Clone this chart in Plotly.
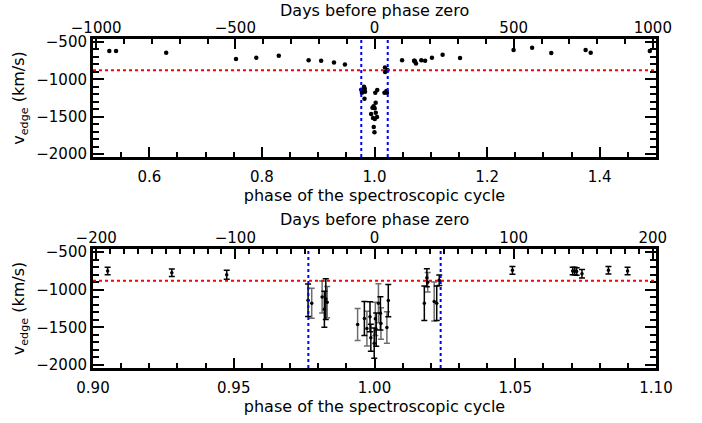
import plotly.graph_objects as go

PERIOD = 2022.7  # days

# --- top panel: points outside the zoomed window (no error bars drawn) ---
wide_phase = [0.529, 0.541, 0.630, 0.754, 0.790, 0.830, 0.883,
              1.102, 1.121, 1.152, 1.247, 1.280, 1.314, 1.375, 1.384, 1.489]
wide_vel = [-620, -620, -643, -728, -710, -683, -745,
            -710, -670, -714, -607, -576, -647, -607, -643, -620]

# --- measurements with error bars (black bars) ---
blk_phase = [0.9052, 0.9280, 0.9475, 0.9764, 0.9822, 0.9827, 0.9964, 0.9984,
             0.9987, 0.9999, 1.0006, 1.0021, 1.0049, 1.0177, 1.0186, 1.0221,
             1.0230, 1.0490, 1.0704, 1.0711, 1.0718, 1.0737, 1.0831, 1.0899]
blk_vel = [-752, -775, -802, -1140, -1260, -1125, -1382, -1360,
           -1638, -1710, -1530, -1314, -1144, -1180, -842, -1180,
           -874, -743, -752, -752, -760, -788, -743, -752]
blk_err = [50, 50, 60, 215, 240, 270, 225, 200,
           180, 200, 220, 220, 214, 230, 120, 230,
           70, 52, 50, 50, 50, 57, 50, 50]

# --- measurements with error bars (grey bars) ---
gry_phase = [0.9777, 0.9814, 0.9832, 0.9940, 0.9973, 1.0003, 1.0014,
             1.0023, 1.0044, 1.0189, 1.0212]
gry_vel = [-1180, -1098, -1166, -1463, -1517, -1387, -1180,
           -1449, -1503, -901, -1157]
gry_err = [200, 213, 207, 212, 230, 220, 260,
           210, 210, 130, 260]

ref_vel = -880               # red dotted level
window = [0.9765, 1.0235]    # blue dotted phases

top_range = [0.5, 1.5]
bot_range = [0.90, 1.10]
y_range = [-2040, -460]

FONT = "DejaVu Sans"
fig = go.Figure()

all_phase = wide_phase + blk_phase + gry_phase
all_vel = wide_vel + blk_vel + gry_vel

# top panel
fig.add_trace(go.Scatter(x=all_phase, y=all_vel, mode="markers",
                         marker=dict(color="black", size=4.5),
                         xaxis="x", yaxis="y", showlegend=False))
fig.add_trace(go.Scatter(x=[(p - 1) * PERIOD for p in all_phase], y=all_vel,
                         mode="markers", marker=dict(opacity=0),
                         xaxis="x3", yaxis="y", showlegend=False, hoverinfo="skip"))

# bottom panel
fig.add_trace(go.Scatter(x=gry_phase, y=gry_vel, mode="markers",
                         marker=dict(color="black", size=3.5),
                         error_y=dict(type="data", array=gry_err, color="#6e6e6e",
                                      thickness=1.5, width=3),
                         xaxis="x2", yaxis="y2", showlegend=False))
fig.add_trace(go.Scatter(x=blk_phase, y=blk_vel, mode="markers",
                         marker=dict(color="black", size=3.5),
                         error_y=dict(type="data", array=blk_err, color="black",
                                      thickness=1.5, width=3),
                         xaxis="x2", yaxis="y2", showlegend=False))
fig.add_trace(go.Scatter(x=[(p - 1) * PERIOD for p in blk_phase], y=blk_vel,
                         mode="markers", marker=dict(opacity=0),
                         xaxis="x4", yaxis="y2", showlegend=False, hoverinfo="skip"))

# reference lines
for xr, yr in [("x", "y"), ("x2", "y2")]:
    fig.add_shape(type="line", xref=f"{xr} domain", yref=yr, x0=0, x1=1,
                  y0=ref_vel, y1=ref_vel, line=dict(color="red", width=2, dash="dot"))
    for w in window:
        fig.add_shape(type="line", xref=xr, yref=f"{yr} domain", x0=w, x1=w,
                      y0=0, y1=1, line=dict(color="blue", width=2, dash="dot"))

tickfont = dict(family=FONT, size=15, color="black")
titlefont = dict(family=FONT, size=16, color="black")

TOP_DOM = [0.6413, 1.0]
BOT_DOM = [0.0, 0.3617]

def phase_axis(rng, dtick, minor, fmt, anchor):
    return dict(range=rng, dtick=dtick, tick0=0, tickformat=fmt, ticks="inside",
                ticklen=10, tickwidth=2, tickcolor="black",
                minor=dict(dtick=minor, ticks="inside", ticklen=5, tickwidth=2, tickcolor="black"),
                showline=True, linewidth=3, linecolor="black", mirror=False,
                showgrid=False, zeroline=False, anchor=anchor, domain=[0, 1],
                tickfont=tickfont, automargin=False, ticklabelstandoff=4,
                title=dict(text="phase of the spectroscopic cycle", font=titlefont, standoff=2))

def days_axis(rng, dtick, minor, over, anchor):
    return dict(range=rng, dtick=dtick, tick0=0, ticks="inside", side="top",
                overlaying=over, anchor=anchor,
                ticklen=10, tickwidth=2, tickcolor="black",
                minor=dict(dtick=minor, ticks="inside", ticklen=5, tickwidth=2, tickcolor="black"),
                showline=True, linewidth=3, linecolor="black",
                showgrid=False, zeroline=False, tickfont=tickfont, automargin=False,
                ticklabelstandoff=-3)

def vel_axis(domain, anchor):
    return dict(range=y_range, dtick=500, tick0=0, ticks="inside", ticklen=11, tickwidth=2,
                tickcolor="black",
                minor=dict(dtick=100, ticks="inside", ticklen=6, tickwidth=2, tickcolor="black"),
                showline=True, linewidth=3, linecolor="black", mirror="ticks",
                showgrid=False, zeroline=False, domain=domain, anchor=anchor,
                tickfont=tickfont, automargin=False,
                title=dict(text="v<sub>edge</sub> (km/s)", font=titlefont, standoff=8))

# top-axis titles as annotations, centred above each panel
for dom, shift in [(TOP_DOM, 29), (BOT_DOM, 30)]:
    fig.add_annotation(text="Days before phase zero", xref="paper", yref="paper",
                       x=0.5, y=dom[1], xanchor="center", yanchor="middle",
                       yshift=shift, showarrow=False, font=titlefont)

fig.update_layout(
    width=702, height=423,
    margin=dict(l=93, r=46, t=39, b=55),
    paper_bgcolor="white", plot_bgcolor="white",
    font=dict(family=FONT, color="black"),
    xaxis=phase_axis(top_range, 0.2, 0.05, ".1f", "y"),
    xaxis2=phase_axis(bot_range, 0.05, 0.01, ".2f", "y2"),
    xaxis3=days_axis([(top_range[0] - 1) * PERIOD, (top_range[1] - 1) * PERIOD], 500, 100, "x", "y"),
    xaxis4=days_axis([(bot_range[0] - 1) * PERIOD, (bot_range[1] - 1) * PERIOD], 100, 10, "x2", "y2"),
    yaxis=vel_axis(TOP_DOM, "x"),
    yaxis2=vel_axis(BOT_DOM, "x2"),
    hovermode=False,
)

# remove the browser's default 8px body margin so the figure sits at the window origin
fig.write_html("out.html", config={"displayModeBar": False},
               post_script="document.body.style.margin='0';")
